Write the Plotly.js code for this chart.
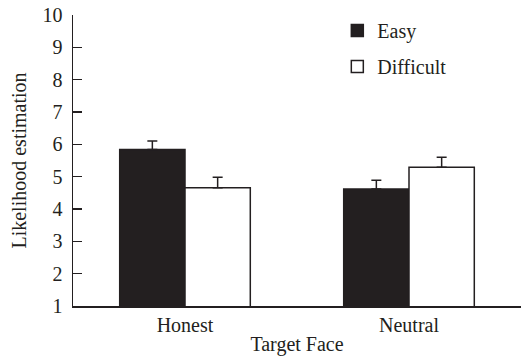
<!DOCTYPE html>
<html>
<head>
<meta charset="utf-8">
<script src="https://cdn.plot.ly/plotly-3.0.1.min.js"></script>
<style>html,body{margin:0;padding:0;background:#fff;}#chart{width:521px;height:362px;}</style>
</head>
<body>
<div id="chart"></div>
<script>
const categories = ["Honest", "Neutral"];
const easyValues = [5.84, 4.62];
const easyErrors = [0.26, 0.27];
const difficultValues = [4.66, 5.29];
const difficultErrors = [0.32, 0.31];
const yTickValues = [1, 2, 3, 4, 5, 6, 7, 8, 9, 10];

const ink = "#231f20";
const font = {family: "Liberation Serif", size: 20, color: ink};

const traces = [
  {
    type: "bar", name: "Easy", x: categories, y: easyValues,
    marker: {color: ink, line: {color: ink, width: 1.5}},
    error_y: {type: "data", array: easyErrors, arrayminus: [0, 0], symmetric: false, color: ink, thickness: 1.5, width: 5},
    legendgroup: "a"
  },
  {
    type: "bar", name: "Difficult", x: categories, y: difficultValues,
    marker: {color: "#ffffff", line: {color: ink, width: 1.5}},
    error_y: {type: "data", array: difficultErrors, arrayminus: [0, 0], symmetric: false, color: ink, thickness: 1.5, width: 5},
    legendgroup: "b"
  }
];

const layout = {
  width: 521, height: 362,
  margin: {l: 73, r: 0, t: 15, b: 56},
  paper_bgcolor: "#fff", plot_bgcolor: "#fff",
  font: font,
  barmode: "group", bargap: 0.417, bargroupgap: 0,
  showlegend: true,
  legend: {x: 0.59, y: 1.014, xanchor: "left", yanchor: "top", bgcolor: "rgba(0,0,0,0)",
           font: font, traceorder: "grouped", tracegroupgap: 7},
  xaxis: {
    range: [-0.5, 1.5], showline: true, linecolor: ink, linewidth: 1.5,
    ticks: "", showgrid: false, zeroline: false, tickfont: font,
    title: {text: "Target Face", font: font, standoff: 2}
  },
  yaxis: {
    range: [1, 10], tickvals: yTickValues, showline: true, linecolor: ink, linewidth: 1.5,
    ticks: "inside", ticklen: 9, tickwidth: 1.5, tickcolor: ink,
    showgrid: false, zeroline: false, tickfont: font, ticklabelstandoff: 5,
    title: {text: "Likelihood estimation", font: font, standoff: 10}
  }
};

Plotly.newPlot("chart", traces, layout, {displayModeBar: false, staticPlot: true});
</script>
</body>
</html>
